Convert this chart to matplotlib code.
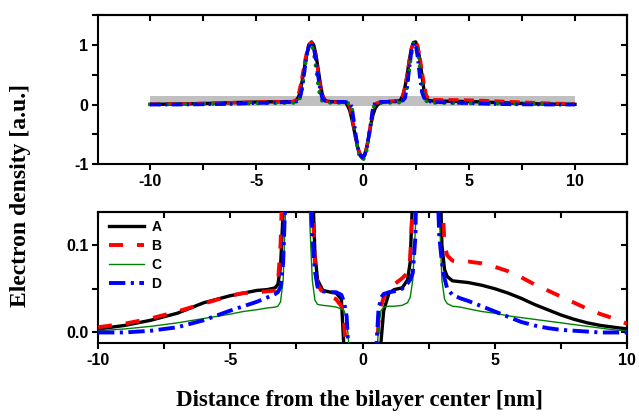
import matplotlib
matplotlib.use("Agg")
import matplotlib.pyplot as plt
from matplotlib.ticker import MultipleLocator, FormatStrFormatter

plt.rcParams['font.family'] = ['Liberation Sans', 'DejaVu Sans']
plt.rcParams['font.weight'] = 'bold'
plt.rcParams['axes.unicode_minus'] = False

# Shared x grid (nm)
X = [-10, -9, -8, -7, -6, -5,
     -4.5, -4, -3.6, -3.3,
     -3.2, -3.1, -3.0, -2.9, -2.8, -2.7, -2.6, -2.5, -2.4, -2.3, -2.2, -2.1, -2.0, -1.9, -1.8, -1.7,
     -1.5, -1.2, -1.0, -0.8,
     -0.7, -0.6, -0.5, -0.4, -0.3, -0.2, -0.1, 0.0, 0.1, 0.2, 0.3, 0.4, 0.5, 0.6, 0.7, 0.8,
     1.0, 1.2, 1.5, 1.7,
     1.8, 1.9, 2.0, 2.1, 2.2, 2.3, 2.4, 2.5, 2.6, 2.7, 2.8, 2.9, 3.0, 3.1, 3.2,
     3.4, 3.7, 4.0, 4.5,
     5.0, 5.5, 6.0, 6.5, 7.0, 7.5, 8.0, 8.5, 9.0, 9.5, 10.0]

A = [0.004, 0.008, 0.014, 0.022, 0.034, 0.042,
     0.045, 0.048, 0.049, 0.051,
     0.055, 0.075, 0.14, 0.28, 0.48, 0.70, 0.88, 1.00, 1.05, 1.00, 0.85, 0.62, 0.38, 0.18, 0.09, 0.06,
     0.048, 0.046, 0.045, 0.038,
     -0.02, -0.10, -0.25, -0.42, -0.60, -0.76, -0.86, -0.90, -0.85, -0.72, -0.52, -0.32, -0.16, -0.06, -0.01, 0.025,
     0.045, 0.049, 0.051, 0.06,
     0.08, 0.16, 0.30, 0.50, 0.74, 0.94, 1.04, 1.05, 0.95, 0.75, 0.48, 0.22, 0.10, 0.072, 0.064,
     0.059, 0.058, 0.057, 0.054,
     0.050, 0.045, 0.039, 0.032, 0.026, 0.020, 0.015, 0.011, 0.008, 0.006, 0.004]

B = [0.006, 0.010, 0.016, 0.024, 0.033, 0.042,
     0.045, 0.046, 0.047, 0.048,
     0.055, 0.10, 0.20, 0.36, 0.56, 0.76, 0.92, 1.02, 1.04, 0.97, 0.80, 0.57, 0.34, 0.16, 0.08, 0.055,
     0.045, 0.041, 0.038, 0.030,
     0.012, -0.03, -0.20, -0.40, -0.58, -0.74, -0.84, -0.87, -0.83, -0.70, -0.50, -0.28, -0.04, 0.01, 0.03, 0.04,
     0.050, 0.055, 0.062, 0.068,
     0.085, 0.15, 0.30, 0.50, 0.74, 0.94, 1.04, 1.06, 0.98, 0.80, 0.56, 0.35, 0.16, 0.10, 0.088,
     0.082, 0.081, 0.081, 0.079,
     0.075, 0.070, 0.063, 0.055, 0.048, 0.041, 0.034, 0.027, 0.021, 0.016, 0.010]

C = [0.002, 0.004, 0.007, 0.011, 0.016, 0.021,
     0.024, 0.026, 0.028, 0.029,
     0.030, 0.035, 0.06, 0.15, 0.38, 0.66, 0.90, 1.03, 1.02, 0.88, 0.63, 0.36, 0.13, 0.06, 0.037, 0.032,
     0.031, 0.030, 0.029, 0.027,
     0.025, 0.015, -0.02, -0.35, -0.62, -0.80, -0.90, -0.93, -0.89, -0.76, -0.55, -0.30, -0.05, 0.005, 0.025, 0.029,
     0.030, 0.030, 0.031, 0.034,
     0.04, 0.06, 0.12, 0.30, 0.58, 0.85, 1.02, 1.04, 0.90, 0.62, 0.32, 0.14, 0.06, 0.038, 0.033,
     0.030, 0.029, 0.027, 0.024,
     0.022, 0.019, 0.017, 0.015, 0.013, 0.011, 0.009, 0.007, 0.005, 0.003, 0.002]

D = [0.000, 0.000, 0.002, 0.006, 0.014, 0.025,
     0.030, 0.035, 0.040, 0.044,
     0.046, 0.052, 0.08, 0.17, 0.38, 0.64, 0.88, 1.02, 1.04, 0.95, 0.76, 0.50, 0.25, 0.11, 0.07, 0.052,
     0.047, 0.046, 0.046, 0.043,
     0.035, 0.018, -0.04, -0.30, -0.55, -0.74, -0.85, -0.88, -0.84, -0.72, -0.52, -0.28, -0.03, 0.025, 0.040, 0.044,
     0.046, 0.047, 0.050, 0.056,
     0.060, 0.068, 0.11, 0.30, 0.60, 0.88, 1.03, 1.00, 0.78, 0.45, 0.20, 0.11, 0.08, 0.062, 0.050,
     0.043, 0.039, 0.036, 0.030,
     0.024, 0.018, 0.012, 0.008, 0.005, 0.003, 0.002, 0.001, 0.000, 0.000, 0.000]

labels = ['A', 'B', 'C', 'D']
series = [A, B, C, D]
colors = ['black', 'red', 'green', 'blue']

# zoom window shown in the lower panel
zoom_ylim = (-0.012, 0.138)

fig = plt.figure(figsize=(6.39, 4.17), dpi=100)
ax1 = fig.add_axes([0.1534, 0.606, 0.8279, 0.358])
ax2 = fig.add_axes([0.1534, 0.1775, 0.8279, 0.3149])

# ---- top panel
ax1.fill_between([X[0], X[-1]], zoom_ylim[0] - 0.008, zoom_ylim[1], color='#c0c0c0', lw=0, zorder=1)
top_styles = [dict(ls='-', lw=2.4),
              dict(ls=(0, (3.0, 1.6)), lw=2.4),
              dict(ls=(0, (0.1, 2.2)), lw=2.8, dash_capstyle='round'),
              dict(ls=(0, (3.0, 1.2, 0.6, 1.2)), lw=2.6)]
for y, c, st in zip(series, colors, top_styles):
    ax1.plot(X, y, color=c, zorder=3, **st)
ax1.set_xlim(-12.45, 12.45)
ax1.set_ylim(-1, 1.5)
ax1.xaxis.set_major_locator(MultipleLocator(5))
ax1.xaxis.set_minor_locator(MultipleLocator(2.5))
ax1.yaxis.set_major_locator(MultipleLocator(1))
ax1.yaxis.set_minor_locator(MultipleLocator(0.5))

# ---- bottom panel
bot_styles = [dict(ls='-', lw=2.4),
              dict(ls=(0, (3.6, 3.6)), lw=2.8),
              dict(ls='-', lw=1.0),
              dict(ls=(0, (4.2, 1.4, 0.8, 1.4)), lw=2.8)]
for y, c, st, lab in zip(series, colors, bot_styles, labels):
    ax2.plot(X, y, color=c, label=lab, zorder=3, **st)
ax2.set_xlim(-10, 10)
ax2.set_ylim(*zoom_ylim)
ax2.xaxis.set_major_locator(MultipleLocator(5))
ax2.xaxis.set_minor_locator(MultipleLocator(2.5))
ax2.yaxis.set_major_locator(MultipleLocator(0.1))
ax2.yaxis.set_minor_locator(MultipleLocator(0.05))
ax2.yaxis.set_major_formatter(FormatStrFormatter('%.1f'))

for ax in (ax1, ax2):
    for s in ax.spines.values():
        s.set_linewidth(1.5)
    ax.tick_params(which='both', direction='out', length=4.5, width=1.5, labelsize=11.5, pad=2.5)
    sx = ax.secondary_xaxis('top')
    sx.xaxis.set_major_locator(MultipleLocator(2.5))
    sx.tick_params(which='both', direction='in', length=4.5, width=1.5, labeltop=False)
    sx.spines['top'].set_linewidth(1.5)
    sy = ax.secondary_yaxis('right')
    sy.yaxis.set_major_locator(ax.yaxis.get_minor_locator())
    sy.tick_params(which='both', direction='in', length=4.5, width=1.5, labelright=False)
    sy.spines['right'].set_linewidth(1.5)

for lbl in ax1.get_xticklabels() + ax1.get_yticklabels() + ax2.get_xticklabels() + ax2.get_yticklabels():
    lbl.set_fontweight('bold')

leg = ax2.legend(loc='upper left', bbox_to_anchor=(0.0, 1.02), frameon=False,
                 prop=dict(family='Liberation Sans', weight='bold', size=10),
                 handlelength=2.5, handletextpad=0.55, labelspacing=0.36, borderaxespad=0.4)

fig.text(0.563, 0.04, 'Distance from the bilayer center [nm]', ha='center', va='center',
         family='Liberation Serif', weight='bold', fontsize=16.5)
fig.text(0.032, 0.532, 'Electron density [a.u.]', ha='center', va='center', rotation=90,
         family='Liberation Serif', weight='bold', fontsize=17)

fig.savefig('out.png', dpi=100)
